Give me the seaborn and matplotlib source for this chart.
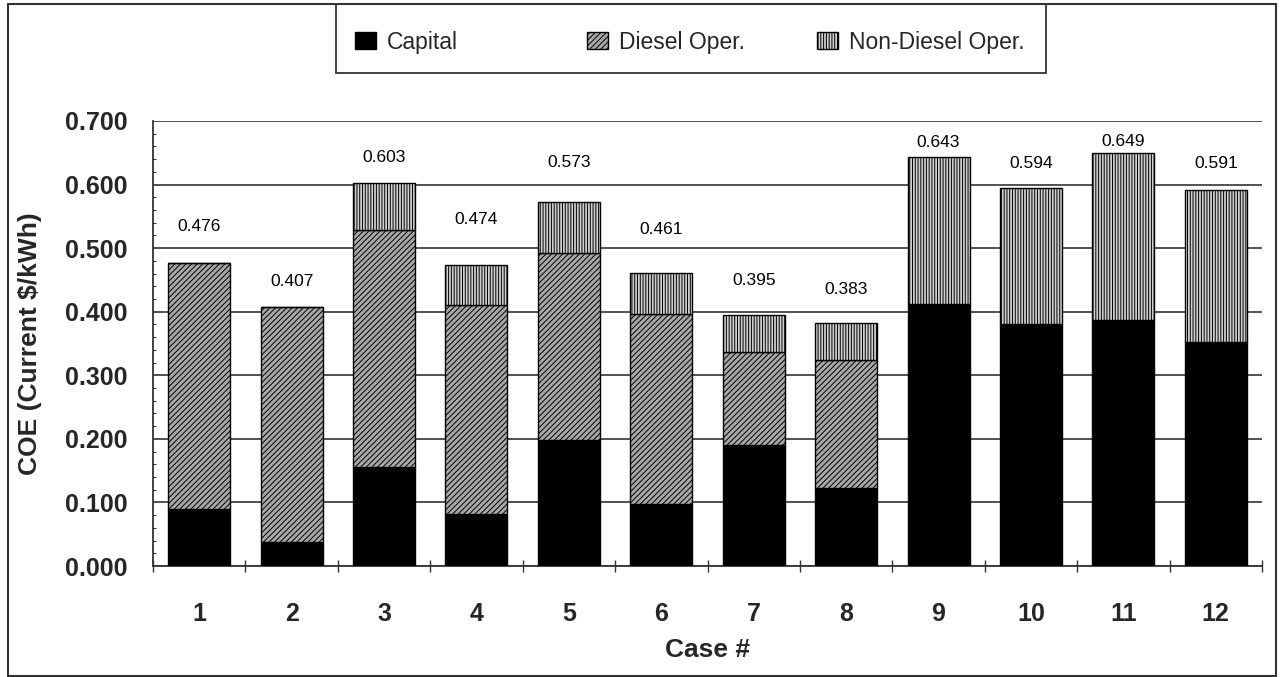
import matplotlib
matplotlib.use("Agg")
import matplotlib.pyplot as plt
import seaborn as sns
import numpy as np
from matplotlib.patches import Patch, Rectangle
from matplotlib.ticker import MultipleLocator, FixedLocator

# ---- data ----
cases = ["1", "2", "3", "4", "5", "6", "7", "8", "9", "10", "11", "12"]
capital = [0.090, 0.037, 0.155, 0.082, 0.198, 0.098, 0.190, 0.123, 0.412, 0.380, 0.387, 0.352]
diesel = [0.386, 0.370, 0.373, 0.328, 0.295, 0.299, 0.146, 0.201, 0.000, 0.000, 0.000, 0.000]
totals = [0.476, 0.407, 0.603, 0.474, 0.573, 0.461, 0.395, 0.383, 0.643, 0.594, 0.649, 0.591]
non_diesel = [round(t - c - d, 3) for t, c, d in zip(totals, capital, diesel)]
total_labels = ["0.476", "0.407", "0.603", "0.474", "0.573", "0.461",
                "0.395", "0.383", "0.643", "0.594", "0.649", "0.591"]
series_names = ["Capital", "Diesel Oper.", "Non-Diesel Oper."]
y_ticks = [0.0, 0.1, 0.2, 0.3, 0.4, 0.5, 0.6, 0.7]

# label offsets above bars (pixels) - layout only
label_offsets_px = [37, 26, 25, 45, 39, 43, 34, 33, 15, 25, 12, 27]

sns.set_theme(style="white")
plt.rcParams["font.family"] = ["Liberation Sans", "DejaVu Sans"]
plt.rcParams["hatch.linewidth"] = 0.7

FW, FH = 1281, 677
fig = plt.figure(figsize=(FW / 100, FH / 100), dpi=100)
ax = fig.add_axes([153 / FW, 1 - 566 / FH, (1262 - 153) / FW, (566 - 121) / FH])

W = 0.67
bottom2 = [c for c in capital]
bottom3 = [c + d for c, d in zip(capital, diesel)]

cap_color, dsl_color, non_color = "black", "#a8a8a8", "#cfcfcf"

sns.barplot(x=cases, y=capital, color=cap_color, width=W, errorbar=None,
            edgecolor="black", linewidth=1.0, ax=ax, zorder=3)
c1 = ax.containers[-1]
sns.barplot(x=cases, y=diesel, bottom=bottom2, width=W, errorbar=None, ax=ax,
            color=dsl_color, edgecolor="black", linewidth=1.0, zorder=3)
c2 = ax.containers[-1]
sns.barplot(x=cases, y=non_diesel, bottom=bottom3, width=W, errorbar=None, ax=ax,
            color=non_color, edgecolor="black", linewidth=1.0, zorder=3)
c3 = ax.containers[-1]

for p in c1:
    p.set_facecolor(cap_color)
for p in c2:
    p.set_facecolor(dsl_color)
    p.set_hatch("//////")
for p in c3:
    p.set_facecolor(non_color)
    p.set_hatch("||||||")

# value labels
for i, (t, lab) in enumerate(zip(totals, total_labels)):
    ax.annotate(lab, xy=(i, t), xytext=(0, label_offsets_px[i] * 0.72),
                textcoords="offset points", ha="center", va="center",
                fontsize=12.5, color="black")

ax.set_ylim(0, 0.7)
ax.set_xlim(-0.5, len(cases) - 0.5)
ax.set_yticks(y_ticks)
ax.set_yticklabels([f"{v:.3f}" for v in y_ticks])
ax.yaxis.set_minor_locator(MultipleLocator(0.02))
ax.xaxis.set_minor_locator(FixedLocator(np.arange(-0.5, len(cases), 1.0)))

ax.grid(axis="y", which="major", color="#222222", linewidth=1.1, zorder=0)
ax.set_axisbelow(True)

for s in ["top", "right"]:
    ax.spines[s].set_visible(False)
for s in ["left", "bottom"]:
    ax.spines[s].set_color("#333333")
    ax.spines[s].set_linewidth(1.3)

ax.tick_params(axis="y", which="major", direction="out", length=6, width=1,
               color="#333333", pad=12, labelsize=18)
ax.tick_params(axis="y", which="minor", direction="in", length=2.5, width=0.8,
               color="#333333", left=True)
ax.tick_params(axis="x", which="major", length=0, pad=26, labelsize=18)
ax.tick_params(axis="x", which="minor", direction="inout", length=9, width=1,
               color="#333333", bottom=True)
for lab in ax.get_xticklabels() + ax.get_yticklabels():
    lab.set_fontweight("bold")

ax.set_xlabel("Case #", fontsize=19, fontweight="bold")
ax.set_ylabel("COE (Current $/kWh)", fontsize=19, fontweight="bold")
ax.xaxis.set_label_coords(0.5, -(638 - 566) / 445)
ax.yaxis.set_label_coords((42 - 153) / 1109, 0.5)

# legend frame and entries
fig.patches.append(Rectangle((336 / FW, 1 - 73 / FH), (1046 - 336) / FW, (73 - 4) / FH,
                             transform=fig.transFigure, fill=False,
                             edgecolor="#333333", linewidth=1.3, zorder=5))
handles = [
    Patch(facecolor=cap_color, edgecolor="black"),
    Patch(facecolor=dsl_color, edgecolor="black", hatch="//////"),
    Patch(facecolor=non_color, edgecolor="black", hatch="||||||"),
]
entry_x = [355, 587, 817]
for h, name, ex in zip(handles, series_names, entry_x):
    fig.legend([h], [name], loc="center left",
               bbox_to_anchor=(ex / FW, 1 - 42 / FH), fontsize=16.5,
               frameon=False, handlelength=0.9, handleheight=0.8,
               handletextpad=0.5, borderaxespad=0.0, borderpad=0.0)

fig.patches.append(Rectangle((8 / FW, 1 - 676 / FH), (1276 - 8) / FW, (676 - 4) / FH,
                             transform=fig.transFigure, fill=False,
                             edgecolor="#333333", linewidth=1.5, zorder=0))

fig.savefig("out.png", dpi=100, facecolor="white")
